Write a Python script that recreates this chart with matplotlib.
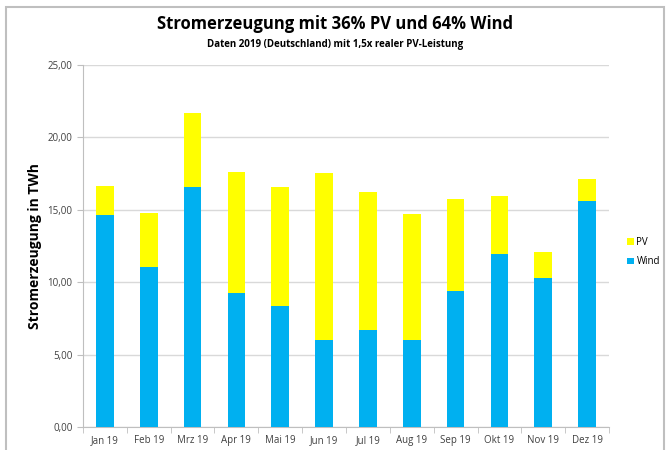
import numpy as np
import matplotlib.pyplot as plt
from matplotlib.patches import Rectangle

plt.rcParams['font.family'] = ['Open Sans', 'DejaVu Sans']

months = ['Jan 19', 'Feb 19', 'Mrz 19', 'Apr 19', 'Mai 19', 'Jun 19',
          'Jul 19', 'Aug 19', 'Sep 19', 'Okt 19', 'Nov 19', 'Dez 19']
wind = [14.63, 11.02, 16.59, 9.22, 8.39, 5.99, 6.73, 5.99, 9.36, 11.98, 10.32, 15.62]
total = [16.63, 14.77, 21.70, 17.62, 16.59, 17.53, 16.24, 14.70, 15.78, 15.96, 12.09, 17.16]
pv = [t - w for t, w in zip(total, wind)]

fig = plt.figure(figsize=(6.7, 4.5), dpi=100)
ax = fig.add_axes([83 / 670, 1 - 427 / 450, (609 - 83) / 670, (427 - 65) / 450])

x = np.arange(len(months))
b_wind = ax.bar(x, wind, width=0.4, color='#00B0F0', label='Wind', zorder=3)
b_pv = ax.bar(x, pv, width=0.4, bottom=wind, color='#FFFF00', label='PV', zorder=3)

ax.set_xlim(-0.5, len(months) - 0.5)
ax.set_ylim(0, 25)
ax.set_yticks(np.arange(0, 26, 5))
ax.set_yticklabels([f'{v:.2f}'.replace('.', ',') for v in np.arange(0, 26, 5)],
                   fontsize=7, color='#404040')
ax.set_xticks(x)
ax.set_xticklabels(months, fontsize=7, color='#404040')
ax.set_xticks(np.arange(-0.5, len(months), 1), minor=True)
ax.tick_params(axis='x', which='major', length=0, pad=6)
ax.tick_params(axis='x', which='minor', length=4, color='#bfbfbf')
ax.tick_params(axis='y', length=4, color='#bfbfbf')
ax.grid(axis='y', color='#d9d9d9', linewidth=1, zorder=0)
for side in ['top', 'right']:
    ax.spines[side].set_visible(False)
for side in ['left', 'bottom']:
    ax.spines[side].set_color('#bfbfbf')

ax.set_ylabel('Stromerzeugung in TWh', fontsize=10, fontweight='bold', labelpad=4)

fig.text(0.5, 1 - 24 / 450, 'Stromerzeugung mit 36% PV und 64% Wind',
         ha='center', va='center', fontsize=12, fontweight='bold')
fig.text(0.5, 1 - 45 / 450, 'Daten 2019 (Deutschland) mit 1,5x realer PV-Leistung',
         ha='center', va='center', fontsize=7, fontweight='bold')

fig.legend(handles=[b_pv, b_wind], labels=['PV', 'Wind'], loc='center left',
           bbox_to_anchor=(618 / 670, 1 - 252 / 450), frameon=False, fontsize=7,
           handlelength=0.7, handleheight=0.7, handletextpad=0.3, labelspacing=0.9)

fig.patches.append(Rectangle((6 / 670, -0.01), 658 / 670, 1 - 2 / 450, transform=fig.transFigure,
                             fill=False, edgecolor='#bfbfbf', linewidth=1.5))

fig.savefig('out.png', dpi=100)
